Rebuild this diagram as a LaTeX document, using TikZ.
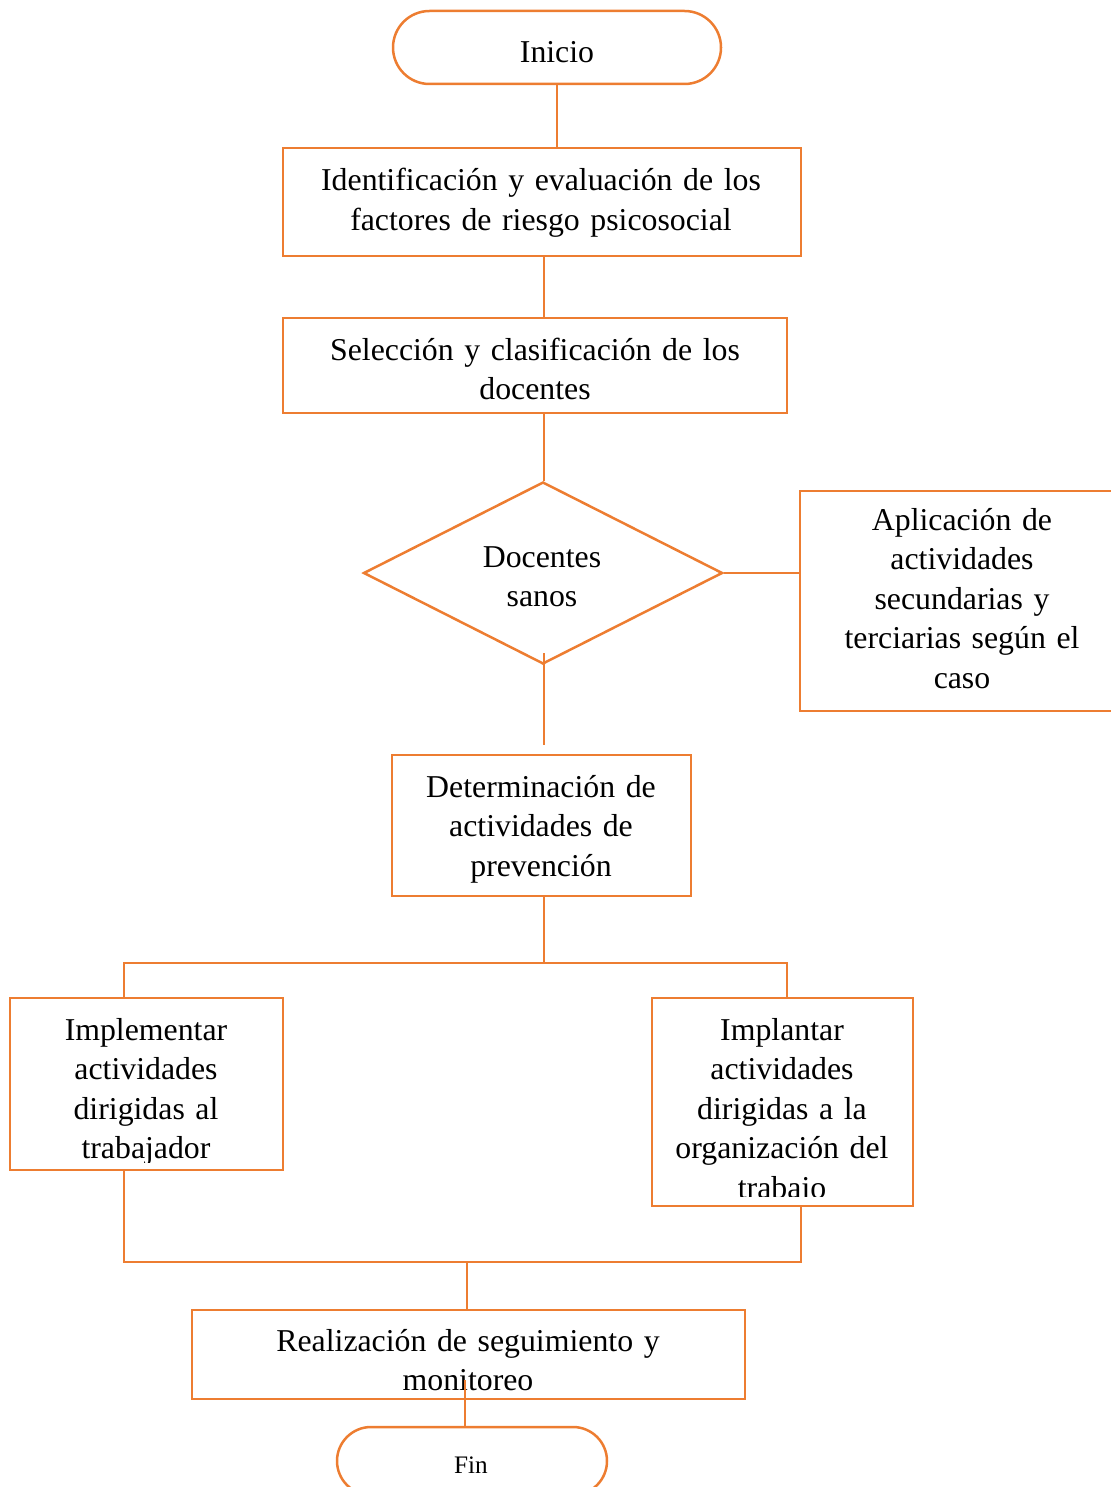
\documentclass[tikz,border=0pt]{standalone}
\usepackage{fontspec}
\setmainfont{Liberation Serif}
\usetikzlibrary{shapes.geometric}
\definecolor{flow}{HTML}{ED7D31}
\begin{document}
\begin{tikzpicture}[x=0.5pt, y=-0.5pt,
  line/.style={draw=flow, line width=1.25pt},
  box/.style={draw=flow, line width=1.25pt, inner sep=0pt},
  txt/.style={inner sep=0pt, align=center, anchor=base, text width=#1,
    font=\fontsize{15.9}{19.75}\selectfont},
]
\useasboundingbox (0,0) rectangle (1111,1487);
\clip (0,0) rectangle (1111,1487);

% terminals
\node[box, minimum width=164pt, minimum height=36.5pt, rounded corners=18.25pt] (ini) at (557,47.5) {};
\node[txt=150pt] (initxt) at (557,63) {Inicio};

\node[box, minimum width=135pt, minimum height=34pt, rounded corners=17pt] (fin) at (472,1461) {};
\node[inner sep=0pt, anchor=base, font=\fontsize{12.6}{15}\selectfont] (fintxt) at (471,1473) {Fin};

% process boxes
\node[box, minimum width=259pt, minimum height=54pt] (idf) at (542,202) {};
\node[txt=250pt] (idftxt) at (541,191) {Identificación y evaluación de los\\factores de riesgo psicosocial};

\node[box, minimum width=252pt, minimum height=47.5pt] (sel) at (535,365.5) {};
\node[txt=245pt] (seltxt) at (535,360) {Selección y clasificación de los\\docentes};

\node[box, diamond, minimum width=179.5pt, minimum height=91pt] (dia) at (543,573) {};
\node[txt=100pt] (diatxt) at (542,567) {Docentes\\sanos};

\node[box, minimum width=162pt, minimum height=110pt] (apl) at (962,601) {};
\node[txt=150pt] (apltxt) at (962,530) {Aplicación de\\actividades\\secundarias y\\terciarias según el\\caso};

\node[box, minimum width=149.5pt, minimum height=70.5pt] (det) at (541.5,825.5) {};
\node[txt=140pt] (dettxt) at (541,797) {Determinación de\\actividades de\\prevención};

\node[box, minimum width=136.5pt, minimum height=86pt] (impl) at (146.5,1084) {};
\begin{scope}
  \clip ([yshift=4.5pt]impl.south west) rectangle (impl.north east);
  \node[txt=130pt] (impltxt) at (146,1040) {Implementar\\actividades\\dirigidas al\\trabajador};
\end{scope}

\node[box, minimum width=130.5pt, minimum height=104pt] (impt) at (782.5,1102) {};
\begin{scope}
  \clip ([yshift=5.5pt]impt.south west) rectangle (impt.north east);
  \node[txt=125pt] (impttxt) at (782,1040) {Implantar\\actividades\\dirigidas a la\\organización del\\trabajo};
\end{scope}

\node[box, minimum width=276.5pt, minimum height=44.5pt] (real) at (468.5,1354.5) {};
\begin{scope}
  \clip ([yshift=4pt]real.south west) rectangle (real.north east);
  \node[txt=270pt] (realtxt) at (468,1351) {Realización de seguimiento y\\monitoreo};
\end{scope}

% connectors
\coordinate (detin) at (544,745);
\coordinate (split) at (544,963);
\coordinate (bl) at (124,963);
\coordinate (br) at (787,963);
\coordinate (ml) at (124,1262);
\coordinate (mr) at (801,1262);
\coordinate (mm) at (467,1262);
\coordinate (finin) at (465,1380);

\draw[line] (ini.south) -- (ini.south |- idf.north);
\draw[line] ([xshift=1pt]idf.south) -- ([xshift=1pt]idf.south |- sel.north);
\draw[line] ([xshift=0.5pt]dia.north |- sel.south) -- ([xshift=0.5pt]dia.north);
\draw[line] (dia.east) -- (dia.east -| apl.west);
\draw[line] (detin |- dia.south) ++(0,-12) -- (detin);
\draw[line] (split |- det.south) -- (split);
\draw[line] (bl |- impl.north) -- (bl) -- (br) -- (br |- impt.north);
\draw[line] (ml |- impl.south) -- (ml) -- (mr) -- (mr |- impt.south);
\draw[line] (mm) -- (mm |- real.north);
\draw[line] (finin) -- (finin |- fin.north);
\end{tikzpicture}
\end{document}
